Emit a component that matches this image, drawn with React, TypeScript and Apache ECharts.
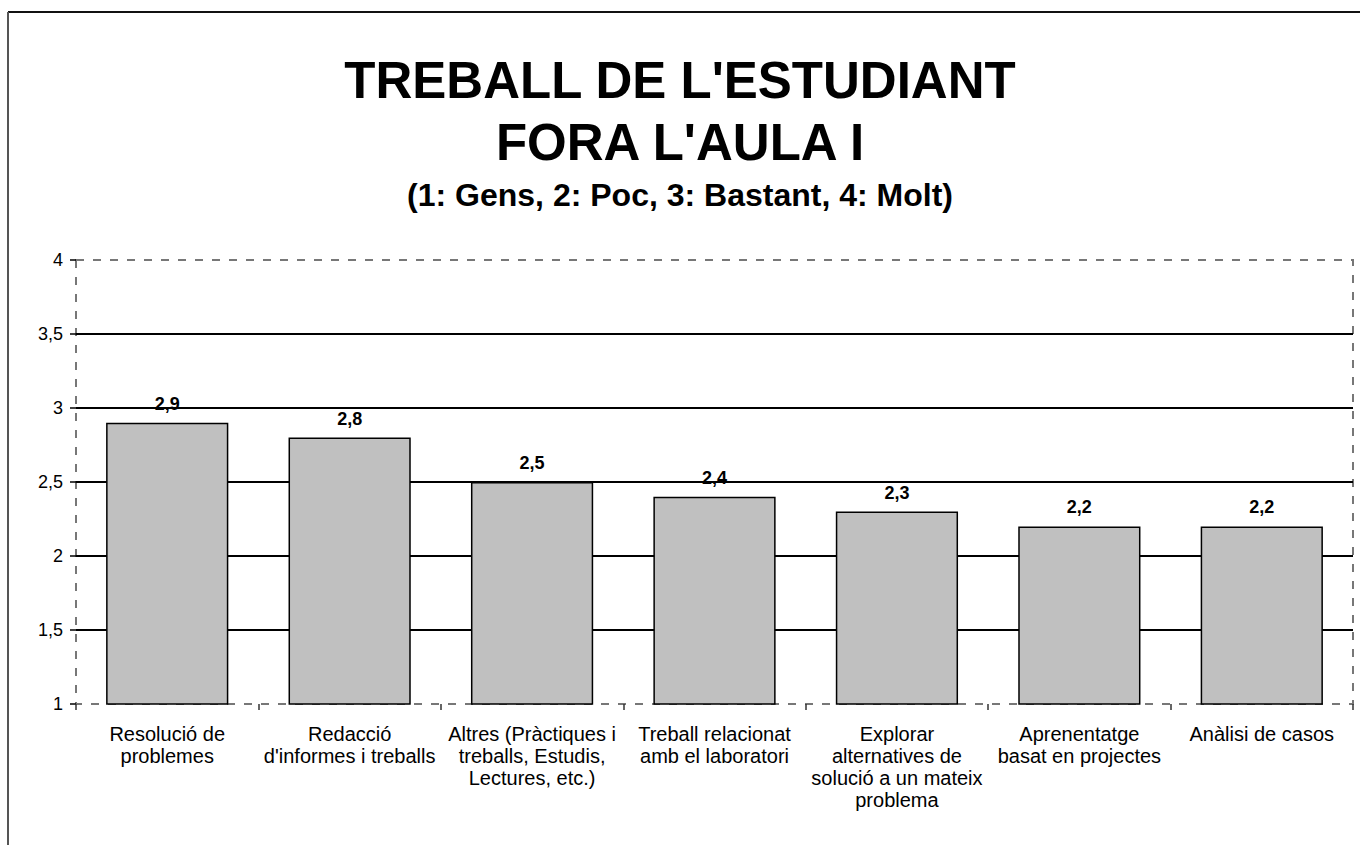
import React, { useEffect, useRef } from "react";
import * as echarts from "echarts";

const categories = [
  "Resolució de\nproblemes",
  "Redacció\nd'informes i treballs",
  "Altres (Pràctiques i\ntreballs, Estudis,\nLectures, etc.)",
  "Treball relacionat\namb el laboratori",
  "Explorar\nalternatives de\nsolució a un mateix\nproblema",
  "Aprenentatge\nbasat en projectes",
  "Anàlisi de casos",
];
const values = [2.9, 2.8, 2.5, 2.4, 2.3, 2.2, 2.2];
const titleText = "TREBALL DE L'ESTUDIANT\nFORA L'AULA I";
const subtitleText = "(1: Gens, 2: Poc, 3: Bastant, 4: Molt)";
const yMin = 1;
const yMax = 4;
const yInterval = 0.5;

const FONT = "'Liberation Sans', Arial, sans-serif";

export default function App() {
  const ref = useRef<HTMLDivElement>(null);
  useEffect(() => {
    if (!ref.current) return;
    const chart = echarts.init(ref.current, null, { renderer: "svg" });
    const fmt = (v: number) => String(v).replace(".", ",");
    chart.setOption({
      animation: false,
      backgroundColor: "#ffffff",
      textStyle: { fontFamily: FONT },
      title: [
        {
          text: titleText,
          left: "center",
          top: 49,
          padding: 0,
          textStyle: {
            fontFamily: FONT,
            fontSize: 51,
            fontWeight: "bold",
            color: "#000",
            lineHeight: 62,
          },
        },
        {
          text: subtitleText,
          left: "center",
          top: 179,
          padding: 0,
          textStyle: {
            fontFamily: FONT,
            fontSize: 32,
            fontWeight: "bold",
            color: "#000",
            lineHeight: 32,
          },
        },
      ],
      graphic: [
        {
          type: "line",
          shape: { x1: 8, y1: 12, x2: 1360, y2: 12 },
          style: { stroke: "#111", lineWidth: 2 },
        },
        {
          type: "line",
          shape: { x1: 8, y1: 12, x2: 8, y2: 845 },
          style: { stroke: "#555", lineWidth: 2 },
        },
      ],
      grid: {
        left: 76,
        right: 7,
        top: 260,
        bottom: 141,
        show: true,
        borderColor: "#777",
        borderWidth: 2,
        borderType: [8, 9],
        containLabel: false,
      },
      xAxis: {
        type: "category",
        data: categories,
        axisLine: { show: false },
        axisTick: {
          show: true,
          alignWithLabel: false,
          length: 6,
          lineStyle: { color: "#333", width: 1.5 },
        },
        axisLabel: {
          interval: 0,
          margin: 19,
          fontFamily: FONT,
          fontSize: 20,
          lineHeight: 22,
          color: "#000",
          align: "center",
        },
      },
      yAxis: {
        type: "value",
        min: yMin,
        max: yMax,
        interval: yInterval,
        axisLine: { show: false },
        axisTick: {
          show: true,
          length: 6,
          lineStyle: { color: "#000", width: 1.5 },
        },
        axisLabel: {
          margin: 13,
          fontFamily: FONT,
          fontSize: 18,
          color: "#000",
          formatter: (v: number) => fmt(v),
        },
        splitLine: {
          show: true,
          lineStyle: {
            color: [
              "transparent",
              "#000",
              "#000",
              "#000",
              "#000",
              "#000",
              "transparent",
            ],
            width: 2,
          },
        },
      },
      series: [
        {
          type: "bar",
          data: values,
          barCategoryGap: "33%",
          itemStyle: {
            color: "#c0c0c0",
            borderColor: "#000",
            borderWidth: 1.5,
          },
          label: {
            show: true,
            position: "top",
            distance: 10,
            fontFamily: FONT,
            fontSize: 18,
            fontWeight: "bold",
            color: "#000",
            formatter: (p: any) => fmt(p.value),
          },
        },
      ],
    });
    return () => chart.dispose();
  }, []);
  return (
    <div
      ref={ref}
      style={{ position: "fixed", left: 0, top: 0, width: 1360, height: 845 }}
    />
  );
}
